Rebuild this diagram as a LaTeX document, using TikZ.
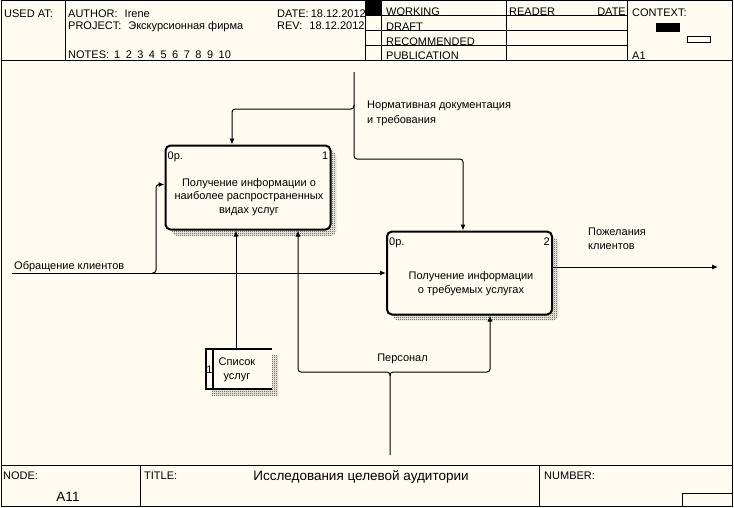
\documentclass[tikz,border=0pt]{standalone}
\usepackage{fontspec}
\setmainfont{Liberation Sans}
\usetikzlibrary{arrows.meta,patterns}

\definecolor{paper}{RGB}{255,251,240}
\pgfdeclarepatternformonly{checker}{\pgfpointorigin}{\pgfpoint{2pt}{2pt}}{\pgfpoint{2pt}{2pt}}{%
        \pgfpathrectangle{\pgfpointorigin}{\pgfpoint{1pt}{1pt}}%
        \pgfpathrectangle{\pgfpoint{1pt}{1pt}}{\pgfpoint{1pt}{1pt}}%
        \pgfusepath{fill}}

\begin{document}
\begin{tikzpicture}[x=1pt,y=-1pt,
        every node/.style={font=\fontsize{11}{14}\selectfont,inner sep=0pt},
        frame/.style={line width=1pt},
        txt/.style={anchor=base west},
        act/.style={draw,line width=2pt,rounded corners=5pt,fill=paper,minimum width=165pt,minimum height=84pt},
        shadow/.style={pattern=checker,pattern color=black!85,rounded corners=5pt},
        arr/.style={line width=1pt,rounded corners=3pt,-{Latex[length=6pt,width=5pt]}},
        wire/.style={line width=1pt,rounded corners=3pt}]
        \fill[paper] (0,0) rectangle (734,507);
        \useasboundingbox (0,0) rectangle (734,507);

        \draw[frame] (1,0.5) rectangle (732,506);
        \draw[frame] (1,60) -- (732,60);
        \draw[frame] (65.5,0.5) -- (65.5,60);
        \foreach \x in {365,381,506.5,627.5}
                \draw[frame] (\x,0.5) -- (\x,60);
        \foreach \y in {15.5,30.5,45.5}
                \draw[frame] (365,\y) -- (627.5,\y);
        \fill (365,0.5) rectangle (381,15.5);
        \fill (656,23) rectangle (680,31.5);
        \draw[frame] (687.5,36.5) rectangle (710.5,42.5);

        \node[txt] (usedat) at (4,17) {USED AT:};
        \node[txt] (author) at (68,17) {AUTHOR:\hspace{7pt}Irene};
        \node[txt] (project) at (68,29) {PROJECT:\hspace{7pt}Экскурсионная фирма};
        \node[txt] (notes) at (68,58) {NOTES:\hspace{5pt}1\hspace{5.5pt}2\hspace{5.5pt}3\hspace{5.5pt}4\hspace{5.5pt}5\hspace{5.5pt}6\hspace{5.5pt}7\hspace{5.5pt}8\hspace{5.5pt}9\hspace{5.5pt}10};
        \node[txt] (date) at (277,17) {DATE:\hspace{2pt}18.12.2012};
        \node[txt] (rev) at (277,29) {REV:\hspace{7pt}18.12.2012};
        \node[txt] (working) at (386,15) {WORKING};
        \node[txt] (draft) at (386,30) {DRAFT};
        \node[txt] (recommended) at (386,45) {RECOMMENDED};
        \node[txt] (publication) at (386,59) {PUBLICATION};
        \node[txt] (reader) at (509,15) {READER};
        \node[anchor=base east] (rdate) at (626,15) {DATE};
        \node[txt] (context) at (632,16) {CONTEXT:};
        \node[txt] (ctxnode) at (632,59) {A1};

        \draw[frame] (1,465.5) -- (732,465.5);
        \draw[frame] (140.5,465.5) -- (140.5,506);
        \draw[frame] (539.5,465.5) -- (539.5,506);
        \draw[frame] (682,493) rectangle (732,506);
        \node[txt] (nodelbl) at (3,479) {NODE:};
        \node[anchor=base,font=\fontsize{13.5}{16}\selectfont] (nodeno) at (68,501) {A11};
        \node[txt] (titlelbl) at (144,479) {TITLE:};
        \node[font=\fontsize{13.5}{16}\selectfont] (title) at (361,477) {Исследования целевой аудитории};
        \node[txt] (numberlbl) at (544,479) {NUMBER:};

        \fill[shadow] (172,151) rectangle (336,236);
        \node[act] (P1) at (248,187.5) {};
        \node[align=center,font=\fontsize{11}{13.5}\selectfont] (P1t) at (249,197) {Получение информации о\\наиболее распространенных\\видах услуг};
        \node[txt] (P1c) at ([xshift=3pt,yshift=-14.5pt]P1.north west) {0р.};
        \node[anchor=base east] (P1n) at ([xshift=-3pt,yshift=-14.5pt]P1.north east) {1};

        \fill[shadow] (393,237.5) rectangle (558,320.5);
        \node[act,minimum height=83pt] (P2) at (469.5,273) {};
        \node[align=center] (P2t) at (471,284) {Получение информации\\о требуемых услугах};
        \node[txt] (P2c) at ([xshift=3pt,yshift=-15pt]P2.north west) {0р.};
        \node[anchor=base east] (P2n) at ([xshift=-3pt,yshift=-15pt]P2.north east) {2};

        \fill[pattern=checker,pattern color=black!85] (212,355) rectangle (278,395);
        \node[fill=paper,minimum width=66pt,minimum height=40pt] (S) at (239,369) {};
        \draw[line width=2pt] (S.north east) -- (S.north west) -- (S.south west) -- (S.south east);
        \draw[line width=1.5pt] ([xshift=7pt]S.north west) -- ([xshift=7pt]S.south west);
        \node (Sn) at (209.5,370) {1};
        \node[align=center] (St) at (237,369.5) {Список\\услуг};

        \coordinate (Ctop) at (354,72);
        \coordinate (Cj) at (354,109);
        \coordinate (Cbend) at (354,159);
        \draw[arr] (Ctop) -- (Cbend) -| ([xshift=-6.5pt]P2.north);
        \draw[arr] ([yshift=4pt]Cj) -- (Cj) -| ([xshift=-16pt]P1.north);
        \node[anchor=west,align=left,font=\fontsize{11}{15}\selectfont] (Clbl) at (367,113.5) {Нормативная документация\\и требования};

        \coordinate (Iin) at (12,273);
        \coordinate (Ij) at (156,273);
        \draw[arr] (Iin) -- (P2.west);
        \draw[arr] ([xshift=-4pt]Ij) -- (Ij) |- ([yshift=3pt]P1.west);
        \node[anchor=west] (Ilbl) at (14,267) {Обращение клиентов};

        \coordinate (Oout) at (718,267);
        \draw[arr] ([yshift=6pt]P2.east) -- (Oout);
        \node[anchor=west,align=left] (Olbl) at (588,238.5) {Пожелания\\клиентов};

        \draw[arr] ([xshift=-3pt]S.north) -- ([xshift=-12pt]P1.south);

        \coordinate (Mbot) at (390,455);
        \coordinate (Mj) at (390,372);
        \draw[arr] (Mbot) -- (Mj) -| ([xshift=20.5pt]P2.south);
        \draw[arr] ([yshift=-4pt]Mj) -- (Mj) -| ([xshift=50pt]P1.south);
        \node (Mlbl) at (402.5,359) {Персонал};
      \end{tikzpicture}
\end{document}
